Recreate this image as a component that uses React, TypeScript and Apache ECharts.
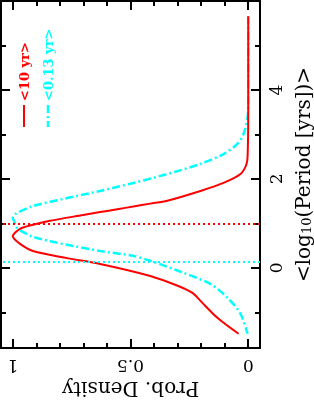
import React, { useEffect, useRef } from "react";
import * as echarts from "echarts";

// Red curve (<10 yr): probability density vs <log10 Period>
const redLogP = [5.66, 3.5, 2.63, 2.34, 2.11, 1.91, 1.73, 1.51, 1.445, 1.38, 1.32, 1.255, 1.19, 1.06, 0.97, 0.88, 0.71, 0.54, 0.38, 0.22, 0.09, -0.18, -0.4, -0.56, -0.74, -1.12, -1.48];
const redDensity = [0.0, 0.0, 0.002, 0.007, 0.033, 0.105, 0.203, 0.344, 0.416, 0.488, 0.556, 0.629, 0.701, 0.842, 0.914, 0.969, 1.0, 0.969, 0.914, 0.769, 0.629, 0.416, 0.3, 0.237, 0.203, 0.131, 0.041];

// Cyan curve (<0.13 yr)
const cyanLogP = [5.66, 3.75, 3.37, 3.01, 2.79, 2.56, 2.34, 2.11, 1.91, 1.73, 1.57, 1.39, 1.21, 1.13, 1.06, 0.9, 0.7, 0.52, 0.38, 0.27, 0.16, -0.11, -0.36, -0.67, -1.03, -1.48];
const cyanDensity = [0.0, 0.0, 0.003, 0.02, 0.046, 0.105, 0.203, 0.344, 0.488, 0.629, 0.769, 0.914, 0.99, 1.0, 0.995, 0.982, 0.914, 0.769, 0.629, 0.488, 0.416, 0.276, 0.161, 0.088, 0.033, 0.003];

// reference (dotted) lines
const redRefLogP = 1.0;
const cyanRefLogP = 0.13;

// ticks
const densityMajor = [0, 0.5, 1];
const densityMinor = [0.1, 0.2, 0.3, 0.4, 0.6, 0.7, 0.8, 0.9];
const logPMajor = [0, 2, 4];
const logPMinor = [-1, 1, 3, 5];

const legendLabels = ["<10 yr>", "<0.13 yr>"];

const FONT = "DejaVu Serif";
const RED = "#ff0000";
const CYAN = "#00ffff";

export default function App() {
  const ref = useRef<HTMLDivElement>(null);
  useEffect(() => {
    if (!ref.current) return;
    const chart = echarts.init(ref.current, null, { renderer: "svg" });
    const xBase = {
      type: "value",
      min: -0.05,
      max: 1.05,
      inverse: true,
      splitLine: { show: false },
    };
    const yBase = {
      type: "value",
      min: -1.8,
      max: 6,
      splitLine: { show: false },
    };
    const frameLine = { show: true, onZero: false, lineStyle: { color: "#000", width: 2 } };
    const noLine = { show: false, onZero: false };
    const noLabel = { show: false };
    const majTick = (vals: number[]) => ({ show: true, inside: true, length: 9, customValues: vals, lineStyle: { color: "#000", width: 2 } });
    const minTick = (vals: number[]) => ({ show: true, inside: true, length: 5, customValues: vals, lineStyle: { color: "#000", width: 2 } });

    chart.setOption({
      animation: false,
      grid: { left: 1, right: 54, top: 1, bottom: 52, containLabel: false, outerBoundsMode: "none" },
      xAxis: [
        {
          ...xBase,
          position: "bottom",
          axisLine: frameLine,
          axisTick: majTick(densityMajor),
          axisLabel: {
            customValues: densityMajor,
            rotate: 180,
            margin: 9,
            fontFamily: FONT,
            fontSize: 17,
            color: "#000",
          },
          name: "Prob. Density",
          nameLocation: "middle",
          nameRotate: 180,
          nameGap: 28,
          nameTextStyle: { fontFamily: FONT, fontSize: 20, color: "#000" },
        },
        { ...xBase, position: "top", axisLine: frameLine, axisTick: majTick(densityMajor), axisLabel: noLabel },
        { ...xBase, position: "bottom", axisLine: noLine, axisTick: minTick(densityMinor), axisLabel: noLabel },
        { ...xBase, position: "top", axisLine: noLine, axisTick: minTick(densityMinor), axisLabel: noLabel },
      ],
      yAxis: [
        {
          ...yBase,
          position: "right",
          axisLine: frameLine,
          axisTick: majTick(logPMajor),
          axisLabel: {
            customValues: logPMajor,
            rotate: 90,
            margin: 7,
            fontFamily: FONT,
            fontSize: 17,
            color: "#000",
          },
          name: "{m|<log}{s|10}{m|(Period [yrs])>}",
          nameLocation: "middle",
          nameRotate: 90,
          nameGap: 16,
          nameTextStyle: {
            fontFamily: FONT,
            fontSize: 20,
            color: "#000",
            rich: {
              m: { fontFamily: FONT, fontSize: 20, color: "#000", lineHeight: 20, verticalAlign: "top" },
              s: { fontFamily: FONT, fontSize: 13, color: "#000", lineHeight: 13, verticalAlign: "bottom", padding: [8, 0, 0, 0] },
            },
          },
        },
        { ...yBase, position: "left", axisLine: frameLine, axisTick: majTick(logPMajor), axisLabel: noLabel },
        { ...yBase, position: "right", axisLine: noLine, axisTick: minTick(logPMinor), axisLabel: noLabel },
        { ...yBase, position: "left", axisLine: noLine, axisTick: minTick(logPMinor), axisLabel: noLabel },
      ],
      series: [
        {
          type: "line",
          name: legendLabels[1],
          xAxisIndex: 0,
          yAxisIndex: 0,
          data: cyanDensity.map((d, i) => [d, cyanLogP[i]]),
          showSymbol: false,
          smooth: 0.3,
          lineStyle: { color: CYAN, width: 2.5, type: [8, 3, 2, 3] },
          markLine: {
            silent: true,
            symbol: ["none", "none"],
            label: { show: false },
            lineStyle: { color: CYAN, width: 2, type: [2, 3] },
            data: [{ yAxis: cyanRefLogP }],
          },
        },
        {
          type: "line",
          name: legendLabels[0],
          xAxisIndex: 0,
          yAxisIndex: 0,
          data: redDensity.map((d, i) => [d, redLogP[i]]),
          showSymbol: false,
          smooth: 0.3,
          lineStyle: { color: RED, width: 2 },
          markLine: {
            silent: true,
            symbol: ["none", "none"],
            label: { show: false },
            lineStyle: { color: RED, width: 2, type: [2, 3] },
            data: [{ yAxis: redRefLogP }],
          },
        },
      ],
      graphic: [
        { type: "line", shape: { x1: 24, y1: 105, x2: 24, y2: 127 }, style: { stroke: RED, lineWidth: 2 } },
        { type: "line", shape: { x1: 48, y1: 105, x2: 48, y2: 127 }, style: { stroke: CYAN, lineWidth: 2.5, lineDash: [8, 3, 2, 3] } },
        {
          type: "text",
          x: 24,
          y: 101,
          rotation: Math.PI / 2,
          style: { text: legendLabels[0], fill: RED, font: `bold 13px "${FONT}"`, align: "left", verticalAlign: "middle" },
        },
        {
          type: "text",
          x: 48,
          y: 101,
          rotation: Math.PI / 2,
          style: { text: legendLabels[1], fill: CYAN, font: `bold 13px "${FONT}"`, align: "left", verticalAlign: "middle" },
        },
      ],
    });
    return () => chart.dispose();
  }, []);
  return <div ref={ref} style={{ position: "fixed", left: 0, top: 0, width: 314, height: 400 }} />;
}
